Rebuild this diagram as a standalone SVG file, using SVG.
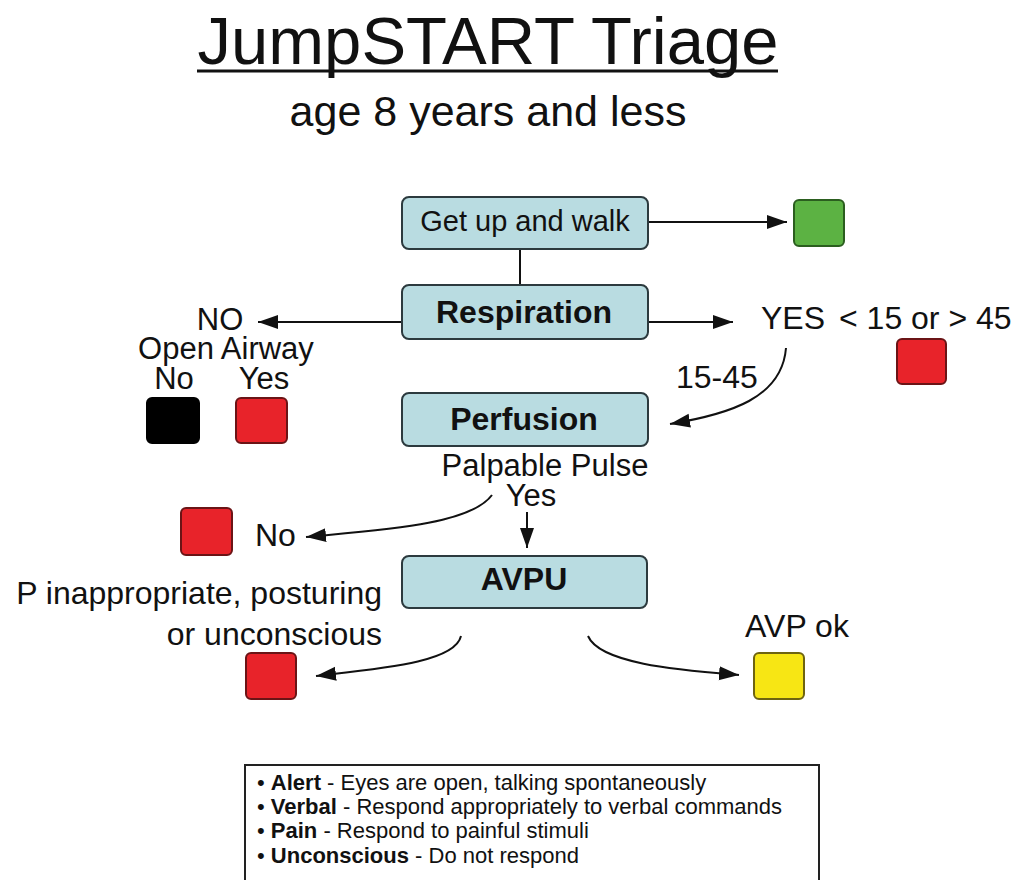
<svg xmlns="http://www.w3.org/2000/svg" width="1021" height="880" viewBox="0 0 1021 880">
<defs>
<style>
text{font-family:"Liberation Sans",Arial,Helvetica,sans-serif;fill:#111}
.box{fill:#b9dce1;stroke:#2c3a3e;stroke-width:2}
.bt{font-size:32px;font-weight:bold;text-anchor:middle}
.lbl{font-size:32px}
.stk{font-size:31px}
.conn{fill:none;stroke:#111;stroke-width:2}
.sq{stroke-width:2}
.red{fill:#e8232a;stroke:#6b1416}
.leg{font-size:22px}
</style>
<marker id="ah" markerUnits="userSpaceOnUse" markerWidth="22" markerHeight="16" refX="20" refY="7" orient="auto" viewBox="0 0 22 16">
<path d="M0,0 L20,7 L0,14 z" fill="#111"/>
</marker>
</defs>
<rect width="1021" height="880" fill="#fff"/>
<g id="title">
<text x="488" y="64" font-size="67" text-anchor="middle">JumpSTART Triage</text>
<line x1="197" y1="71" x2="778" y2="71" stroke="#111" stroke-width="3"/>
<text x="488" y="126" font-size="43" text-anchor="middle">age 8 years and less</text>
</g>
<g id="connectors">
<line class="conn" x1="520" y1="249" x2="520" y2="285"/>
<line class="conn" x1="648" y1="222" x2="787" y2="222" marker-end="url(#ah)"/>
<line class="conn" x1="648" y1="322" x2="733" y2="322" marker-end="url(#ah)"/>
<line class="conn" x1="402" y1="322" x2="258" y2="322" marker-end="url(#ah)"/>
<path class="conn" d="M786,348 C782,398 730,414 670,424" marker-end="url(#ah)"/>
<path class="conn" d="M492,495 C470,525 380,530 306,537" marker-end="url(#ah)"/>
<line class="conn" x1="527" y1="512" x2="527" y2="548" marker-end="url(#ah)"/>
<path class="conn" d="M461,636 C455,662 385,668 316,676" marker-end="url(#ah)"/>
<path class="conn" d="M588,636 C600,664 680,670 739,675" marker-end="url(#ah)"/>
</g>
<g id="node-walk">
<rect class="box" x="402" y="197" width="246" height="52" rx="7"/>
<text x="525" y="231" font-size="29" text-anchor="middle">Get up and walk</text>
</g>
<g id="node-green">
<rect class="sq" x="794" y="200" width="50" height="46" rx="5" fill="#5cb243" stroke="#2b5e1f"/>
</g>
<g id="node-respiration">
<rect class="box" x="402" y="285" width="246" height="54" rx="7"/>
<text class="bt" x="524" y="323">Respiration</text>
</g>
<g id="node-no">
<text class="stk" x="220" y="330" text-anchor="middle">NO</text>
<text class="stk" x="226" y="359" text-anchor="middle">Open Airway</text>
<text class="stk" x="174" y="389" text-anchor="middle">No</text>
<text class="stk" x="264" y="389" text-anchor="middle">Yes</text>
</g>
<g id="node-black">
<rect class="sq" x="147" y="398" width="52" height="45" rx="5" fill="#000" stroke="#000"/>
</g>
<g id="node-red-airway">
<rect class="sq red" x="236" y="398" width="51" height="45" rx="5"/>
</g>
<g id="node-yes">
<text class="lbl" x="761" y="329">YES</text>
<text class="lbl" x="839" y="329">&lt; 15 or &gt; 45</text>
<text class="lbl" x="676" y="388">15-45</text>
</g>
<g id="node-red-resp">
<rect class="sq red" x="897" y="339" width="49" height="45" rx="5"/>
</g>
<g id="node-perfusion">
<rect class="box" x="402" y="393" width="246" height="53" rx="7"/>
<text class="bt" x="524" y="430">Perfusion</text>
</g>
<g id="node-pulse">
<text class="stk" x="545" y="476" text-anchor="middle">Palpable Pulse</text>
<text class="stk" x="531" y="506" text-anchor="middle">Yes</text>
<text class="lbl" x="255" y="546">No</text>
</g>
<g id="node-red-pulse">
<rect class="sq red" x="181" y="508" width="51" height="47" rx="5"/>
</g>
<g id="node-avpu">
<rect class="box" x="402" y="556" width="245" height="52" rx="7"/>
<text class="bt" x="524" y="590">AVPU</text>
</g>
<g id="node-p">
<text class="lbl" x="382" y="604" text-anchor="end">P inappropriate, posturing</text>
<text class="lbl" x="382" y="645" text-anchor="end">or unconscious</text>
</g>
<g id="node-red-avpu">
<rect class="sq red" x="246" y="653" width="50" height="46" rx="5"/>
</g>
<g id="node-avp">
<text class="lbl" x="797" y="637" text-anchor="middle">AVP ok</text>
</g>
<g id="node-yellow">
<rect class="sq" x="754" y="653" width="50" height="46" rx="5" fill="#f7e614" stroke="#6e6410"/>
</g>
<g id="legend">
<rect x="245" y="765" width="574" height="130" fill="#fff" stroke="#222" stroke-width="2"/>
<text class="leg" x="257" y="790">• <tspan font-weight="bold">Alert</tspan> - Eyes are open, talking spontaneously</text>
<text class="leg" x="257" y="814">• <tspan font-weight="bold">Verbal</tspan> - Respond appropriately to verbal commands</text>
<text class="leg" x="257" y="838">• <tspan font-weight="bold">Pain</tspan> - Respond to painful stimuli</text>
<text class="leg" x="257" y="863">• <tspan font-weight="bold">Unconscious</tspan> - Do not respond</text>
</g>
</svg>
